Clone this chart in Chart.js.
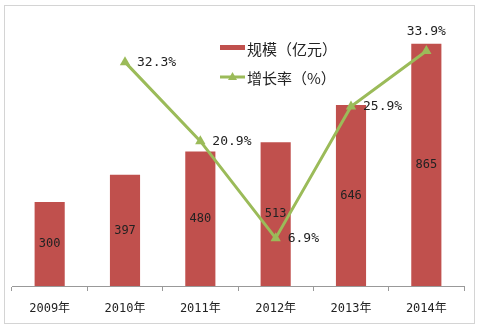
<!DOCTYPE html>
<html>
<head>
<meta charset="utf-8">
<script src="https://cdn.jsdelivr.net/npm/chart.js@4/dist/chart.umd.min.js"></script>
<style>
  html, body { margin: 0; padding: 0; background: #fff; }
  #wrap { position: relative; width: 480px; height: 329px; }
  #frame { position: absolute; left: 4px; top: 5px; width: 469px; height: 317px; border: 1px solid #d4d4d4; pointer-events: none; }
  canvas { position: absolute; left: 0; top: 0; }
</style>
</head>
<body>
<div id="wrap">
  <canvas id="chart" width="480" height="329"></canvas>
  <div id="frame"></div>
</div>
<script>
const years = ["2009年", "2010年", "2011年", "2012年", "2013年", "2014年"];
const scale = [300, 397, 480, 513, 646, 865];
const growth = [null, 32.3, 20.9, 6.9, 25.9, 33.9];

const BAR_RED = "#c0504d";
const LINE_GREEN = "#9bbb59";
const FONT = '"Noto Sans CJK SC", "DejaVu Sans", sans-serif';
const MONO = '"DejaVu Sans Mono", "Noto Sans CJK SC", monospace';

// where each growth label sits relative to its point
const pctSide = ["right", "right", "right", "right", "right", "above"];

const valueLabels = {
  id: "valueLabels",
  afterDatasetsDraw(chart) {
    const ctx = chart.ctx;
    ctx.save();
    ctx.fillStyle = "#222";
    ctx.textBaseline = "middle";
    ctx.textAlign = "center";
    ctx.font = `12px ${MONO}`;
    chart.getDatasetMeta(0).data.forEach((bar, i) => {
      ctx.fillText(String(scale[i]), bar.x, (bar.y + bar.base) / 2);
    });
    ctx.font = `13px ${MONO}`;
    chart.getDatasetMeta(1).data.forEach((pt, i) => {
      if (growth[i] == null) return;
      const txt = growth[i].toFixed(1) + "%";
      if (pctSide[i] === "above") {
        ctx.textAlign = "center";
        ctx.fillText(txt, pt.x, pt.y - 19);
      } else {
        ctx.textAlign = "left";
        ctx.fillText(txt, pt.x + 12, pt.y);
      }
    });
    ctx.restore();
  },
};

const insideLegend = {
  id: "insideLegend",
  afterDraw(chart) {
    const ctx = chart.ctx;
    ctx.save();
    ctx.font = `15px ${FONT}`;
    ctx.textAlign = "left";
    ctx.textBaseline = "middle";

    ctx.fillStyle = BAR_RED;
    ctx.fillRect(220, 45, 25, 5);
    ctx.fillStyle = "#222";
    ctx.fillText(chart.data.datasets[0].label, 247, 49);

    ctx.strokeStyle = LINE_GREEN;
    ctx.lineWidth = 3;
    ctx.beginPath();
    ctx.moveTo(220, 77);
    ctx.lineTo(245, 77);
    ctx.stroke();
    ctx.fillStyle = LINE_GREEN;
    ctx.beginPath();
    ctx.moveTo(232.5, 72);
    ctx.lineTo(237, 80);
    ctx.lineTo(228, 80);
    ctx.closePath();
    ctx.fill();
    ctx.fillStyle = "#222";
    ctx.fillText(chart.data.datasets[1].label, 247, 78);
    ctx.restore();
  },
};

new Chart(document.getElementById("chart"), {
  type: "bar",
  data: {
    labels: years,
    datasets: [
      {
        label: "规模（亿元）",
        data: scale,
        backgroundColor: BAR_RED,
        yAxisID: "y",
        barPercentage: 0.8,
        categoryPercentage: 0.5,
        order: 2,
      },
      {
        type: "line",
        label: "增长率（%）",
        data: growth,
        borderColor: LINE_GREEN,
        backgroundColor: LINE_GREEN,
        borderWidth: 3,
        pointStyle: "triangle",
        pointRadius: 6,
        pointBorderWidth: 0,
        tension: 0,
        yAxisID: "y1",
        order: 1,
      },
    ],
  },
  options: {
    responsive: false,
    animation: false,
    layout: { padding: { left: 12, right: 16, top: 6, bottom: 0 } },
    plugins: { legend: { display: false }, tooltip: { enabled: false } },
    scales: {
      x: {
        grid: { offset: true, drawOnChartArea: false, drawTicks: true, tickLength: 5, color: "#999" },
        border: { display: true, color: "#999" },
        ticks: { color: "#222", font: { family: MONO, size: 12 }, padding: 11, maxRotation: 0 },
        // keep the baseline at a fixed distance from the bottom edge
        afterFit(axis) { axis.height = 43; },
      },
      y: { display: false, min: 0, max: 1000 },
      y1: { display: false, min: 0, max: 40.4 },
    },
  },
  plugins: [valueLabels, insideLegend],
});
</script>
</body>
</html>
